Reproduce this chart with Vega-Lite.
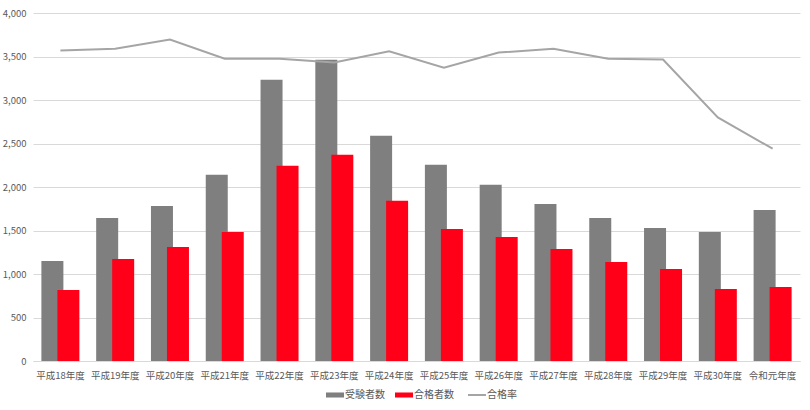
{
  "$schema": "https://vega.github.io/schema/vega-lite/v6.json",
  "width": 767,
  "height": 348,
  "autosize": {"type": "none"},
  "padding": {"left": 33, "top": 13, "right": 10, "bottom": 49},
  "background": "white",
  "config": {
    "font": "Noto Sans CJK JP",
    "view": {"stroke": null},
    "axis": {"labelColor": "#595959", "labelFontSize": 9.5}
  },
  "data": {
    "values": [
      {"year": "平成18年度", "examinees": 1150, "passers": 817, "rate": 0.714},
      {"year": "平成19年度", "examinees": 1645, "passers": 1173, "rate": 0.718},
      {"year": "平成20年度", "examinees": 1783, "passers": 1311, "rate": 0.739},
      {"year": "平成21年度", "examinees": 2140, "passers": 1484, "rate": 0.695},
      {"year": "平成22年度", "examinees": 3232, "passers": 2243, "rate": 0.695},
      {"year": "平成23年度", "examinees": 3463, "passers": 2370, "rate": 0.686},
      {"year": "平成24年度", "examinees": 2588, "passers": 1841, "rate": 0.712},
      {"year": "平成25年度", "examinees": 2255, "passers": 1518, "rate": 0.674},
      {"year": "平成26年度", "examinees": 2025, "passers": 1426, "rate": 0.709},
      {"year": "平成27年度", "examinees": 1806, "passers": 1288, "rate": 0.718},
      {"year": "平成28年度", "examinees": 1645, "passers": 1139, "rate": 0.695},
      {"year": "平成29年度", "examinees": 1530, "passers": 1058, "rate": 0.693},
      {"year": "平成30年度", "examinees": 1484, "passers": 828, "rate": 0.56},
      {"year": "令和元年度", "examinees": 1737, "passers": 851, "rate": 0.488}
    ]
  },
  "encoding": {
    "x": {
      "field": "year",
      "type": "nominal",
      "sort": null,
      "scale": {"paddingInner": 0, "paddingOuter": 0},
      "axis": {
        "title": null,
        "labelAngle": 0,
        "ticks": false,
        "tickSize": 0,
        "labelPadding": 9,
        "domainColor": "#d9d9d9",
        "domainWidth": 1
      }
    }
  },
  "layer": [
    {
      "layer": [
        {
          "mark": {"type": "bar", "width": 22, "xOffset": -8},
          "encoding": {
            "y": {
              "field": "examinees",
              "type": "quantitative",
              "scale": {"domain": [0, 4000]},
              "axis": {
                "title": null,
                "values": [0, 500, 1000, 1500, 2000, 2500, 3000, 3500, 4000],
                "format": ",.0f",
                "domain": false,
                "ticks": false,
                "tickSize": 0,
                "labelPadding": 7,
                "gridColor": "#d9d9d9",
                "gridWidth": 1
              }
            },
            "color": {
              "datum": "受験者数",
              "type": "nominal",
              "scale": {
                "domain": ["受験者数", "合格者数", "合格率"],
                "range": ["#7f7f7f", "#ff0018", "#a5a5a5"]
              },
              "legend": {
                "title": null,
                "orient": "none",
                "legendX": 297,
                "legendY": 377,
                "direction": "horizontal",
                "labelColor": "#595959",
                "labelFontSize": 10,
                "symbolSize": 324,
                "columnPadding": 10,
                "labelOffset": 5,
                "encode": {
                  "symbols": {
                    "update": {
                      "shape": {"signal": "datum.value === '合格率' ? 'M-1,0L1,0' : 'M-1,-0.28L1,-0.28L1,0.28L-1,0.28Z'"},
                      "fill": {"signal": "datum.value === '受験者数' ? '#7f7f7f' : datum.value === '合格者数' ? '#ff0018' : 'transparent'"},
                      "stroke": {"signal": "datum.value === '合格率' ? '#a5a5a5' : 'transparent'"},
                      "strokeWidth": {"signal": "datum.value === '合格率' ? 2 : 0"},
                      "opacity": {"value": 1}
                    }
                  }
                }
              }
            }
          }
        },
        {
          "mark": {"type": "bar", "width": 22, "xOffset": 8},
          "encoding": {
            "y": {"field": "passers", "type": "quantitative"},
            "color": {"datum": "合格者数", "type": "nominal"}
          }
        }
      ]
    },
    {
      "mark": {"type": "line", "strokeWidth": 2},
      "encoding": {
        "y": {
          "field": "rate",
          "type": "quantitative",
          "scale": {"domain": [0, 0.8]},
          "axis": null
        },
        "color": {"datum": "合格率", "type": "nominal"}
      }
    }
  ],
  "resolve": {"scale": {"y": "independent"}}
}
